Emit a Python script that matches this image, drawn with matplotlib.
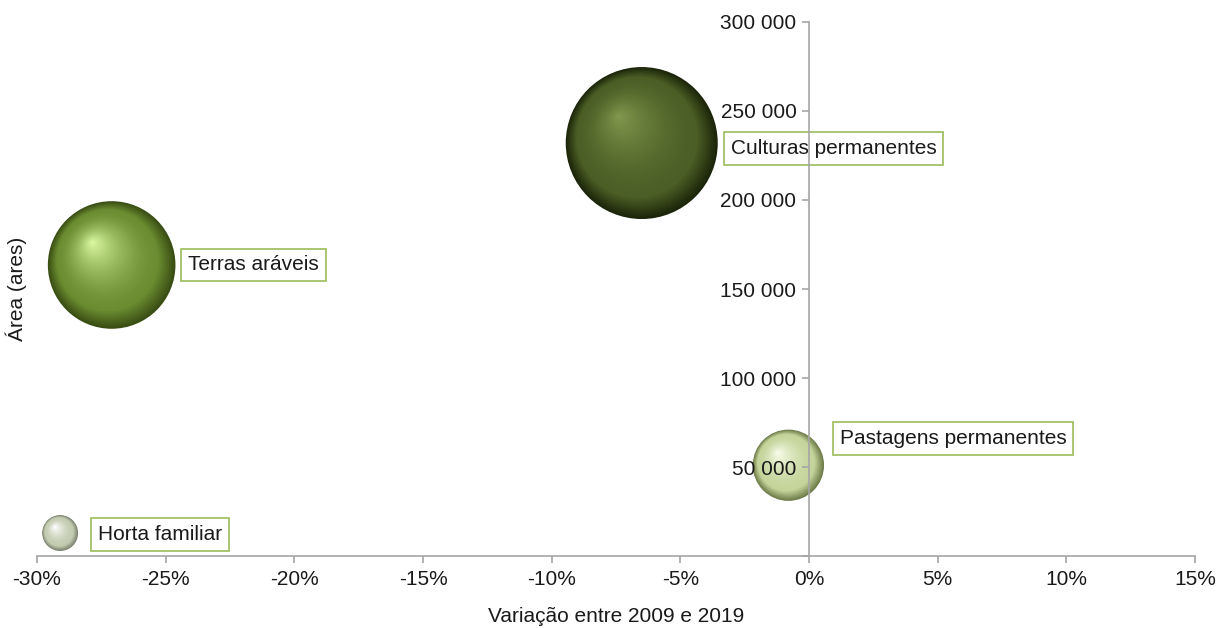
import numpy as np
import matplotlib
matplotlib.use("Agg")
from matplotlib import pyplot as plt
from matplotlib import transforms as mtransforms
from matplotlib.colors import to_rgb
from matplotlib.ticker import FuncFormatter, MultipleLocator

plt.rcParams['font.family'] = ['Liberation Sans', 'DejaVu Sans']

categorias = ["Culturas permanentes", "Terras aráveis", "Pastagens permanentes", "Horta familiar"]
variacao = [-6.5, -27.1, -0.8, -29.1]          # %
area = [232000, 163500, 51000, 12900]        # ares
tamanho = area                                 # bubble size = area

# gradient colours (edge, middle, highlight)
cores = [
    ("#1c260a", "#4b5e25", "#7f964c"),
    ("#3a4e14", "#6b8c30", "#d6f59c"),
    ("#6f7d4a", "#c4d49a", "#f6fbe8"),
    ("#7d8470", "#c3cbb0", "#ffffff"),
]
# label offsets in points (dx, dy)
offsets = [(64, -4), (55, 0), (37, 19.5), (27, -1)]

fig = plt.figure(figsize=(12.26, 6.28), dpi=100)
ax = fig.add_axes([0.0302, 0.1146, 0.9445, 0.8504])

ax.set_xlim(-30, 15)
ax.set_ylim(0, 300000)

rmax_pt = 76 * 0.72
s_max = max(tamanho)


def mix(c1, c2, t):
    a, b = np.array(to_rgb(c1)), np.array(to_rgb(c2))
    return tuple(a + (b - a) * t)


n = 40
for x, y, s, (ce, cm, ch) in zip(variacao, area, tamanho, cores):
    R = rmax_pt * np.sqrt(s / s_max)
    for i in range(n):
        t = i / (n - 1)
        r = R * (1 - 0.97 * t)
        dx, dy = -0.3 * R * t, 0.35 * R * t
        if t < 0.2:
            col = mix(ce, cm, t / 0.2)
        else:
            col = mix(cm, ch, ((t - 0.2) / 0.8) ** 1.6)
        tr = mtransforms.offset_copy(ax.transData, fig=fig, x=dx, y=dy, units='points')
        ax.scatter([x], [y], s=(2 * r) ** 2, color=col, edgecolors='none',
                   transform=tr, zorder=1 + t * 0.5)

for nome, x, y, (ox, oy) in zip(categorias, variacao, area, offsets):
    ax.annotate(nome, xy=(x, y), xytext=(ox, oy), textcoords='offset points',
                ha='left', va='center', fontsize=15, color='#1a1a1a', zorder=2,
                bbox=dict(boxstyle='square,pad=0.33', fc='white', ec='#9bbb59', lw=1.2))

for sp in ['top', 'right']:
    ax.spines[sp].set_visible(False)
ax.spines['left'].set_position(('data', 0))
for sp in ['left', 'bottom']:
    ax.spines[sp].set_color('#a6a6a6')
    ax.spines[sp].set_linewidth(1.2)
    ax.spines[sp].set_zorder(2.5)

ax.xaxis.set_major_locator(MultipleLocator(5))
ax.yaxis.set_major_locator(MultipleLocator(50000))
ax.xaxis.set_major_formatter(FuncFormatter(lambda v, p: f"{v:.0f}%"))
ax.yaxis.set_major_formatter(FuncFormatter(lambda v, p: "" if v == 0 else f"{int(v):,}".replace(",", " ")))
ax.tick_params(axis='both', colors='#a6a6a6', labelcolor='#1a1a1a', labelsize=15,
               length=5, width=1.2)
ax.tick_params(axis='x', pad=5)
ax.tick_params(axis='y', pad=4)

ax.set_xlabel("Variação entre 2009 e 2019", fontsize=15, color='#1a1a1a')
ax.xaxis.set_label_coords(0.5, -0.095)
ax.set_ylabel("Área (ares)", fontsize=15, color='#1a1a1a')
ax.yaxis.set_label_coords(-0.009, 0.5)

fig.savefig("out.png", dpi=100, facecolor='white')
